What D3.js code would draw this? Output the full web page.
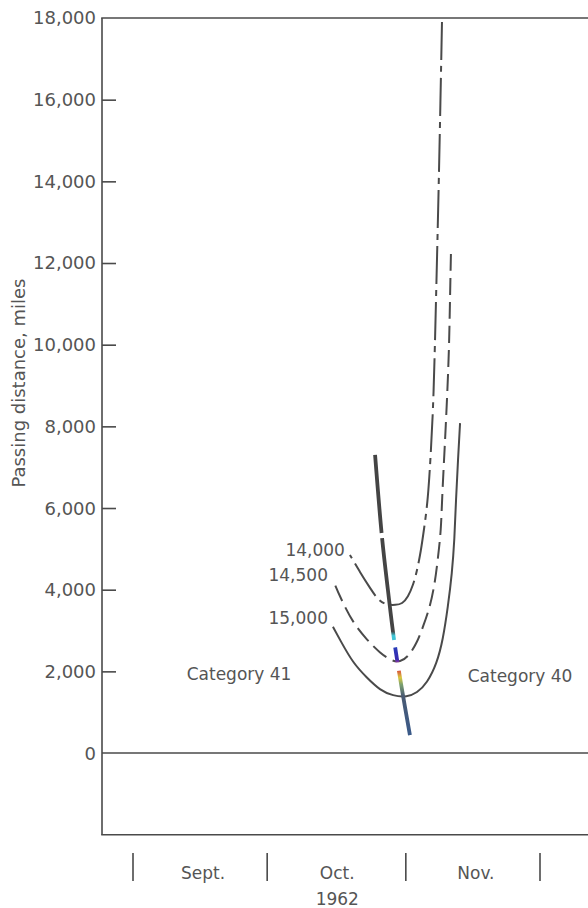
<!DOCTYPE html>
<html>
<head>
<meta charset="utf-8">
<script src="https://cdn.jsdelivr.net/npm/d3@7"></script>
<style>
  body { margin: 0; background: #fff; }
  svg text { font-family: "DejaVu Sans", sans-serif; fill: #555; }
</style>
</head>
<body>
<svg id="chart" width="588" height="908"></svg>
<script>
// passing distance vs date, Sept - Nov 1962

// y axis tick values (miles)
const yTicks = [0, 2000, 4000, 6000, 8000, 10000, 12000, 14000, 16000, 18000];

// month separators and labels
const monthBreaks = ["1962-09-01 00:00", "1962-10-01 00:00", "1962-11-01 00:00", "1962-12-01 00:00"];
const monthNames = ["Sept.", "Oct.", "Nov."];
const monthMids = ["1962-09-16 00:00", "1962-10-16 00:00", "1962-11-16 00:00"];

// curves: [date, passing distance in miles]
const curve14000 = [
    ["1962-10-19 12:00", 4850], ["1962-10-21 18:00", 4430], ["1962-10-24 00:00", 4040],
    ["1962-10-25 19:00", 3750], ["1962-10-27 14:00", 3625], ["1962-10-29 19:00", 3625],
    ["1962-10-31 04:00", 3650], ["1962-11-01 12:00", 3820], ["1962-11-02 15:00", 4110],
    ["1962-11-03 12:00", 4460], ["1962-11-04 09:00", 4950], ["1962-11-05 01:00", 5460],
    ["1962-11-05 23:00", 6200], ["1962-11-06 15:00", 7420], ["1962-11-07 05:00", 8650],
    ["1962-11-07 18:00", 11100], ["1962-11-08 07:00", 13550], ["1962-11-08 18:00", 16000],
    ["1962-11-09 02:00", 17900]
];
const curve14500 = [
    ["1962-10-15 17:00", 4240], ["1962-10-17 07:00", 3820], ["1962-10-20 05:00", 3180],
    ["1962-10-23 08:00", 2770], ["1962-10-26 05:00", 2450], ["1962-10-28 22:00", 2250],
    ["1962-10-30 17:00", 2230], ["1962-11-01 12:00", 2350], ["1962-11-03 12:00", 2700],
    ["1962-11-04 20:00", 3090], ["1962-11-06 10:00", 3580], ["1962-11-07 12:00", 4160],
    ["1962-11-08 05:00", 4800], ["1962-11-08 21:00", 5460], ["1962-11-09 02:00", 6200],
    ["1962-11-09 16:00", 7420], ["1962-11-10 05:00", 8650], ["1962-11-10 16:00", 9870],
    ["1962-11-10 21:00", 11100], ["1962-11-11 02:00", 12220]
];
const curve15000 = [
    ["1962-10-15 17:00", 3090], ["1962-10-17 07:00", 2770], ["1962-10-20 05:00", 2200],
    ["1962-10-23 08:00", 1840], ["1962-10-26 05:00", 1540], ["1962-10-29 03:00", 1400],
    ["1962-11-01 06:00", 1370], ["1962-11-03 12:00", 1470], ["1962-11-05 18:00", 1710],
    ["1962-11-07 23:00", 2200], ["1962-11-09 07:00", 2770], ["1962-11-10 10:00", 3580],
    ["1962-11-11 08:00", 4410], ["1962-11-11 21:00", 5220], ["1962-11-12 05:00", 6200],
    ["1962-11-12 16:00", 7180], ["1962-11-13 03:00", 8080]
];
// heavy track line
const trackLine = [
    ["1962-10-25 03:00", 7300], ["1962-10-26 16:00", 5290], ["1962-10-28 00:00", 3990],
    ["1962-10-29 09:00", 2770], ["1962-10-31 04:00", 1540], ["1962-11-01 22:00", 440]
];

const curveNames = ["14,000", "14,500", "15,000"];
const categoryNames = ["Category 41", "Category 40"];
const categoryAnchors = [["1962-09-24 17:00", 1790], ["1962-11-26 13:00", 1740]];

const parse = d3.timeParse("%Y-%m-%d %H:%M");
const svg = d3.select("#chart");

const LEFT = 102, RIGHT = 588;
const ink = "#4a4a4a";

const xScale = d3.scaleTime()
    .domain([parse(monthBreaks[0]), parse(monthBreaks[3])])
    .range([133, 540]);

const yScale = d3.scaleLinear()
    .domain([-2000, 18000])
    .range([834.7, 18]);

// frame //
const frame = svg.append("g").attr("stroke", ink).attr("stroke-width", 1.6).attr("fill", "none");
frame.append("line").attr("x1", LEFT).attr("x2", LEFT).attr("y1", yScale(18000)).attr("y2", yScale(-2000));
frame.append("line").attr("x1", LEFT - 0.8).attr("x2", RIGHT).attr("y1", yScale(18000)).attr("y2", yScale(18000));
frame.append("line").attr("x1", LEFT - 0.8).attr("x2", RIGHT).attr("y1", yScale(-2000)).attr("y2", yScale(-2000));
frame.append("line").attr("x1", LEFT).attr("x2", RIGHT).attr("y1", yScale(0)).attr("y2", yScale(0));

// y-axis //
const yAxis = svg.append("g")
    .attr("transform", `translate(${LEFT}, 0)`)
    .call(d3.axisRight(yScale).tickValues(yTicks.filter(d => d > 0 && d < 18000)).tickSize(14).tickFormat(""));
yAxis.select(".domain").remove();
yAxis.selectAll("line").attr("stroke", ink).attr("stroke-width", 1.6);

svg.append("g").selectAll("text")
    .data(yTicks)
    .enter()
    .append("text")
    .attr("x", LEFT - 6)
    .attr("y", d => yScale(d))
    .attr("dy", "0.36em")
    .attr("text-anchor", "end")
    .style("font-size", "18px")
    .text(d => d3.format(",")(d));

svg.append("text")
    .attr("transform", `translate(25, ${yScale(9060)}) rotate(-90)`)
    .attr("text-anchor", "middle")
    .style("font-size", "18px")
    .text("Passing distance, miles");

// x-axis (month separators) //
svg.append("g").selectAll("line")
    .data(monthBreaks)
    .enter()
    .append("line")
    .attr("x1", d => xScale(parse(d)))
    .attr("x2", d => xScale(parse(d)))
    .attr("y1", 853)
    .attr("y2", 881)
    .attr("stroke", ink)
    .attr("stroke-width", 1.6);

svg.append("g").selectAll("text")
    .data(monthNames)
    .enter()
    .append("text")
    .attr("x", (d, i) => xScale(parse(monthMids[i])) + 3)
    .attr("y", 879)
    .attr("text-anchor", "middle")
    .style("font-size", "17px")
    .text(d => d);

svg.append("text")
    .attr("x", xScale(parse(monthMids[1])) + 3)
    .attr("y", 905)
    .attr("text-anchor", "middle")
    .style("font-size", "17px")
    .text("1962");

// curves //
const smoothLine = d3.line()
    .x(d => xScale(parse(d[0])))
    .y(d => yScale(d[1]))
    .curve(d3.curveBasis);

const trackPath = d3.line()
    .x(d => xScale(parse(d[0])))
    .y(d => yScale(d[1]))
    .curve(d3.curveCatmullRom.alpha(0.5));

const curves = [
    {data: curve14000, dash: "38,6,6,6"},
    {data: curve14500, dash: "17,7"},
    {data: curve15000, dash: null}
];

const chart = svg.append("g");

curves.forEach((c, i) => {
    chart.append("path")
        .datum(c.data.slice().reverse())
        .attr("d", smoothLine)
        .attr("fill", "none")
        .attr("stroke", ink)
        .attr("stroke-width", 2)
        .attr("stroke-dasharray", c.dash);

    const start = c.data[0];
    chart.append("text")
        .attr("x", xScale(parse(start[0])) - 5)
        .attr("y", yScale(start[1]) + (i === 2 ? -3 : 1))
        .attr("text-anchor", "end")
        .style("font-size", "17px")
        .text(curveNames[i]);
});

// heavy track line with scan colour fringe
const grad = svg.append("defs").append("linearGradient")
    .attr("id", "track-grad")
    .attr("gradientUnits", "userSpaceOnUse")
    .attr("x1", 0).attr("x2", 0)
    .attr("y1", yScale(7300)).attr("y2", yScale(440));
[[0, "#444"], [0.63, "#444"], [0.645, "#40c4d4"], [0.665, "#40c4d4"],
 [0.69, "#2a3ab8"], [0.73, "#3a2ab0"], [0.745, "#b03a9a"],
 [0.765, "#d83a3a"], [0.795, "#d8c840"], [0.82, "#7aa070"], [0.86, "#4a5a72"], [1, "#3a5a8a"]]
    .forEach(s => grad.append("stop").attr("offset", s[0]).attr("stop-color", s[1]));

const track = chart.append("path")
    .datum(trackLine)
    .attr("d", trackPath)
    .attr("fill", "none")
    .attr("stroke", "url(#track-grad)")
    .attr("stroke-width", 3.8);

// small breaks in the heavy line
const trackNode = track.node();
const total = trackNode.getTotalLength();
function lengthAt(v) {
    const yy = yScale(v);
    let l = 0;
    while (l < total && trackNode.getPointAtLength(l).y < yy) l += 0.5;
    return l;
}
const breaks = [[5400, 5270], [2770, 2600], [2230, 2030]].map(b => [lengthAt(b[0]), lengthAt(b[1])]);
let dash = [], pos = 0;
breaks.forEach(b => { dash.push(b[0] - pos, b[1] - b[0]); pos = b[1]; });
dash.push(total - pos + 5, 0);
track.attr("stroke-dasharray", dash.join(","));

// category labels
svg.append("g").selectAll("text")
    .data(categoryNames)
    .enter()
    .append("text")
    .attr("x", (d, i) => xScale(parse(categoryAnchors[i][0])))
    .attr("y", (d, i) => yScale(categoryAnchors[i][1]))
    .attr("text-anchor", "middle")
    .style("font-size", "17px")
    .text(d => d);
</script>
</body>
</html>
